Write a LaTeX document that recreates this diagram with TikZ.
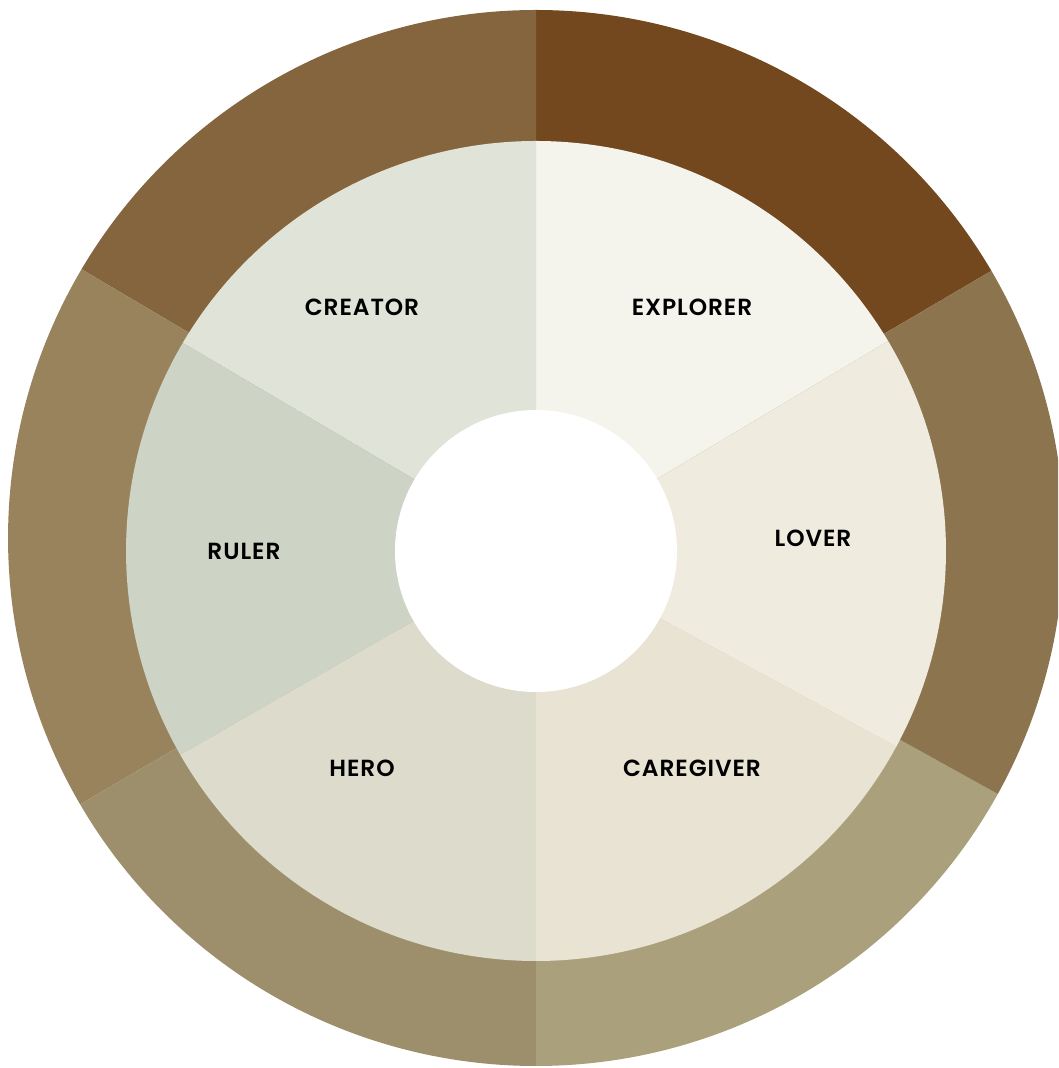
\documentclass[tikz,border=0pt]{standalone}
\usepackage{fontspec}
\newfontfamily\wheelfont{Poppins SemiBold}[LetterSpace=4]
\usetikzlibrary{positioning}
\definecolor{explorerring}{HTML}{73481E}
\definecolor{loverring}{HTML}{8C744E}
\definecolor{caregiverring}{HTML}{AAA17C}
\definecolor{heroring}{HTML}{9E8F6C}
\definecolor{rulerring}{HTML}{98835D}
\definecolor{creatorring}{HTML}{85653E}
\definecolor{explorerfill}{HTML}{F4F4EC}
\definecolor{loverfill}{HTML}{EFEBDF}
\definecolor{caregiverfill}{HTML}{E9E3D4}
\definecolor{herofill}{HTML}{DDDBCC}
\definecolor{rulerfill}{HTML}{CDD3C5}
\definecolor{creatorfill}{HTML}{E0E3D8}

\begin{document}
\begin{tikzpicture}[
  x=0.75pt, y=0.75pt,
  archetype/.style={font=\wheelfont\fontsize{17.5}{20}\selectfont,text=black,inner sep=0pt}]
\useasboundingbox (0,0) rectangle (1058,1068);
\clip (0,0) rectangle (1058,1068);
\coordinate (outerc) at (536,530);
\coordinate (innerc) at (536,517);
% outer ring
\foreach \a/\b/\c in {30.4/90/explorerring, 90/149.4/creatorring,
    149.4/210.3/rulerring, 210.3/270/heroring,
    270/331/caregiverring, 331/390.4/loverring}{
  \fill[\c] (outerc) -- ++(\a:528) arc[start angle=\a, end angle=\b, radius=528] -- cycle;
}
% inner ring
\foreach \a/\b/\c in {30.8/90/explorerfill, 90/149.5/creatorfill,
    149.5/209.8/rulerfill, 209.8/270/herofill,
    270/331.5/caregiverfill, 331.5/390.8/loverfill}{
  \fill[\c] (innerc) -- ++(\a:410) arc[start angle=\a, end angle=\b, radius=410] -- cycle;
}
\fill[white] (innerc) circle[radius=141];
\node[archetype] (explorer) at (692,761) {EXPLORER};
\node[archetype] (creator) at (362,761) {CREATOR};
\node[archetype] (ruler) at (244,517) {RULER};
\node[archetype] (lover) at (813,530) {LOVER};
\node[archetype] (hero) at (362,300) {HERO};
\node[archetype] (caregiver) at (692,300) {CAREGIVER};
\end{tikzpicture}
\end{document}
